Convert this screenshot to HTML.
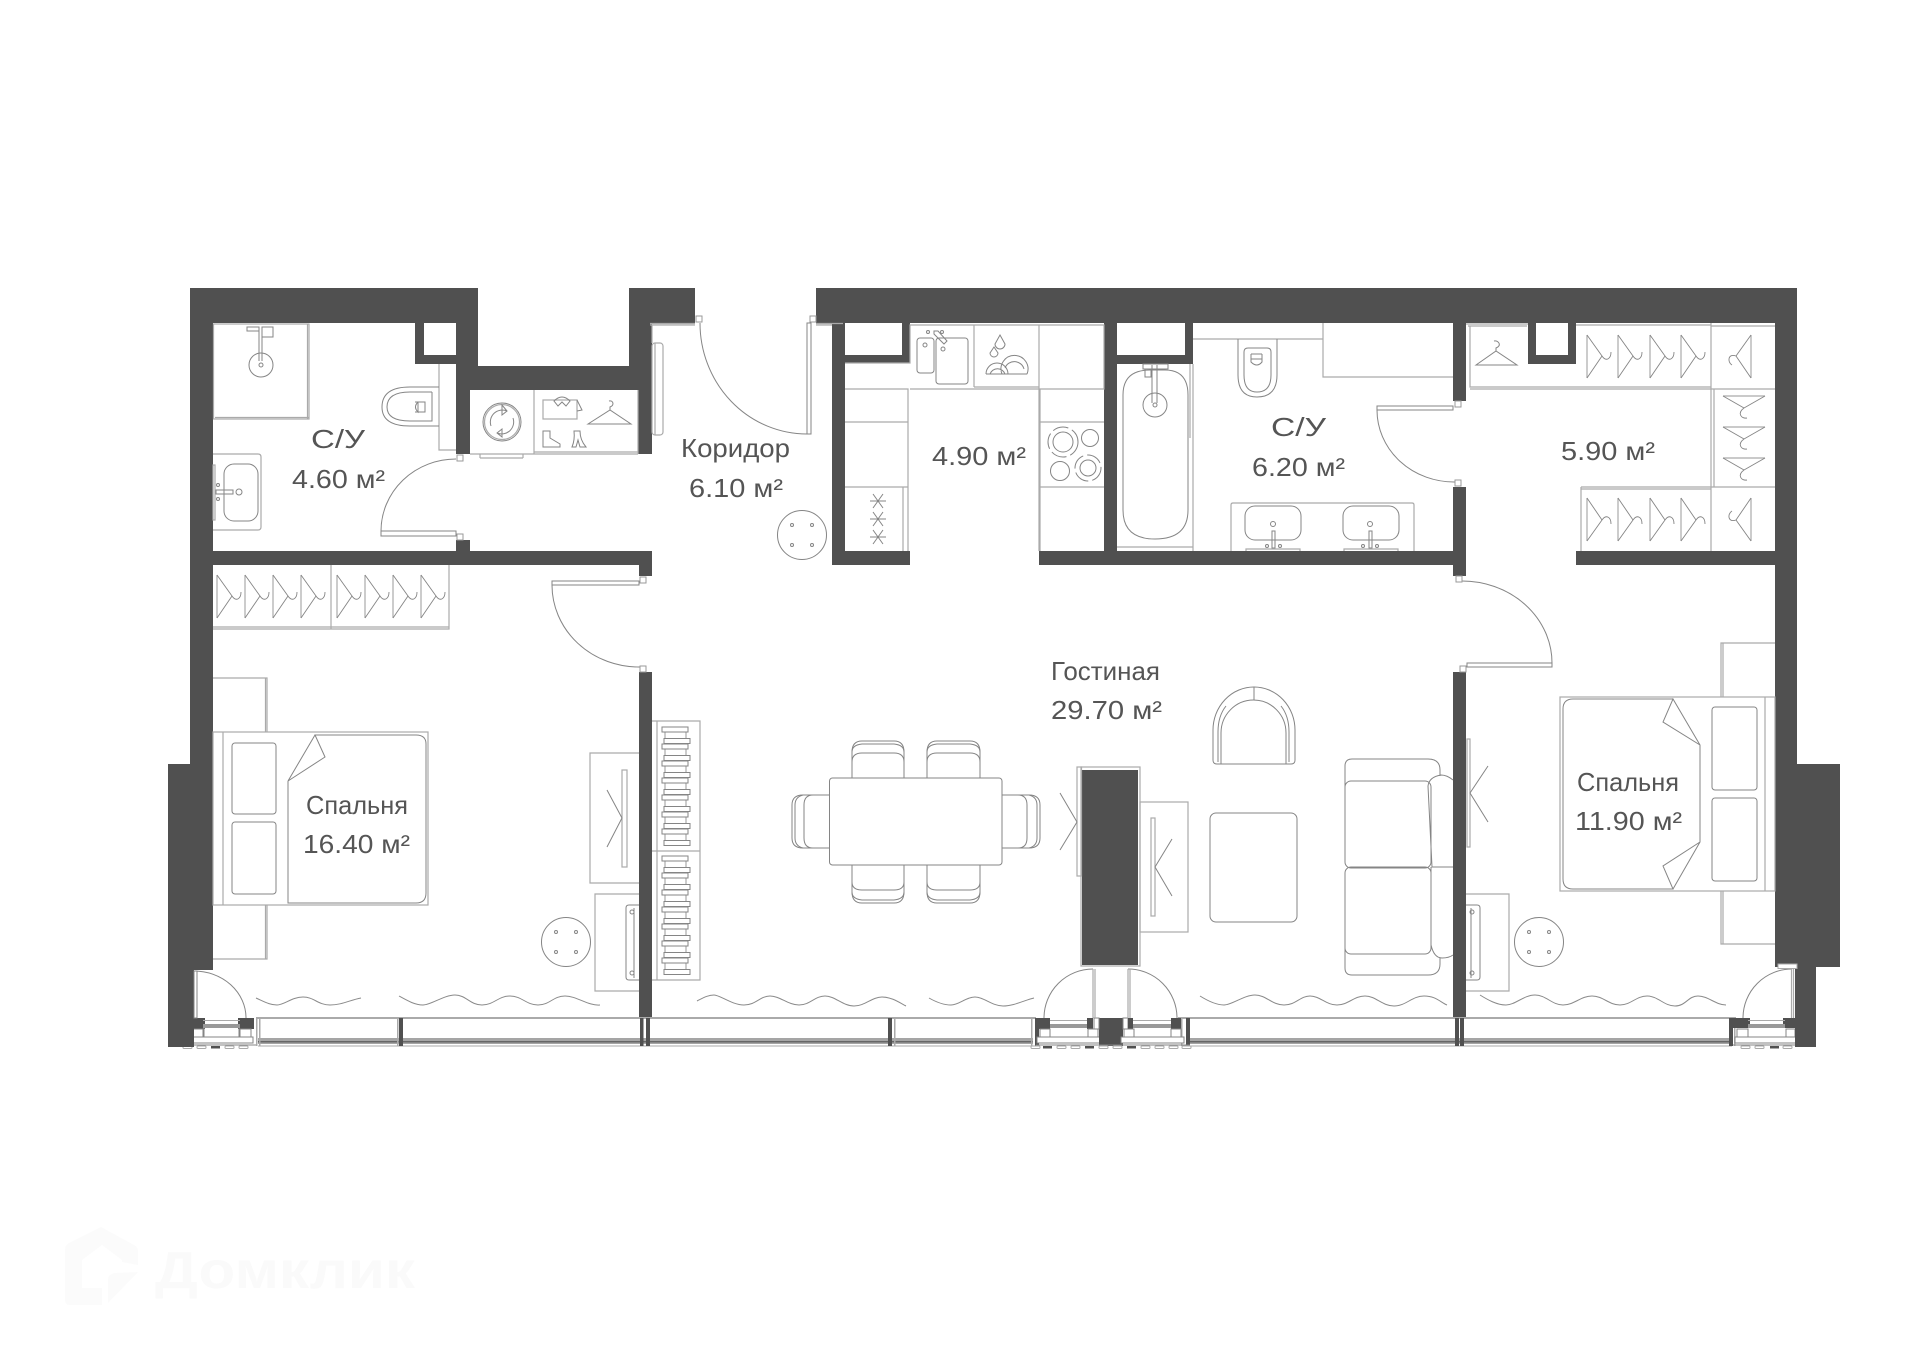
<!DOCTYPE html>
<html><head><meta charset="utf-8"><title>План квартиры</title>
<style>
html,body{margin:0;padding:0;background:#fff}
svg{display:block}
.w{fill:#505050}
.l{fill:none;stroke:#858585;stroke-width:1}
.n{fill:none;stroke:#aaa;stroke-width:1.2}
.b{fill:#fff;stroke:#858585;stroke-width:1}
.t{font-family:"Liberation Sans",sans-serif;font-size:26px;fill:#555}
</style></head><body>
<svg width="1920" height="1357" viewBox="0 0 1920 1357" xmlns="http://www.w3.org/2000/svg">
<defs>
<g id="hr"><path class="n" d="M0,0V43"/><path class="l" style="stroke-width:.9" d="M0,0L15,21L0,43M15,21C19,27 24,24 24,17"/></g>
<g id="hm"><path class="n" d="M0,0V43"/><path class="l" style="stroke-width:.9" d="M0,0L-15,21L0,43M-15,21C-23,18 -24,27 -19,30"/></g>
<g id="ht"><path class="n" d="M0,0H42"/><path class="l" style="stroke-width:.9" d="M0,0L21,12L42,0M21,12C14,17 18,23 24,22"/></g>
<g id="pouf"><circle class="l" r="24.5"/><circle class="l" cx="-10" cy="-10" r="1.5"/><circle class="l" cx="10" cy="-10" r="1.5"/><circle class="l" cx="-10" cy="10" r="1.5"/><circle class="l" cx="10" cy="10" r="1.5"/></g>
<g id="pair"><rect class="b" x="662" y="0" width="26" height="5"/><rect class="b" x="664" y="11.5" width="26" height="5"/></g>
<g id="snow"><path class="l" d="M-8,0H8M-5,-7L5,7M5,-7L-5,7"/></g>
<g id="lz"><rect x="0" y="0" width="9" height="2.5" rx="1" fill="#fff" stroke="#aaa" stroke-width="1"/></g>
<g id="ld"><rect x="0" y="0" width="9" height="2.5" fill="#505050"/></g>
<g id="hg"><rect x="0" y="0" width="6" height="6" fill="#fff" stroke="#999" stroke-width="1"/></g>
</defs>
<rect width="1920" height="1357" fill="#fff"/>

<!-- watermark -->
<path d="M65,1250Q65,1245 69,1243L101,1227L134,1245Q138,1247 138,1251V1265L122,1262V1260L102,1245L82,1260V1288H102V1305H70Q65,1305 65,1300Z" fill="#fbfbfb"/>
<path d="M108,1303V1280Q108,1274 115,1273L138,1272Z" fill="#fbfbfb"/>
<text x="155" y="1288" textLength="260" lengthAdjust="spacingAndGlyphs" style="font-family:'Liberation Sans',sans-serif;font-weight:bold;font-size:52px;fill:#fafafa">Домклик</text>

<!-- window bands -->
<g>
<rect x="256" y="1017" width="780" height="2" fill="#aaa"/>
<rect x="1178" y="1017" width="558" height="2" fill="#aaa"/>
<rect x="258" y="1038" width="775" height="6" fill="#a5a5a5"/>
<rect x="1188" y="1038" width="544" height="6" fill="#a5a5a5"/>
<rect x="258" y="1041" width="775" height="1.5" fill="#666"/>
<rect x="1188" y="1041" width="544" height="1.5" fill="#666"/>
<rect x="258" y="1045.500" width="775" height="1" fill="#aaa"/>
<rect x="1188" y="1045.500" width="544" height="1" fill="#aaa"/>
<rect x="256" y="1018" width="1.5" height="28" fill="#aaa"/><rect x="259" y="1018" width="1.5" height="28" fill="#aaa"/>
<rect x="397" y="1018" width="1.5" height="28" fill="#aaa"/><rect x="399" y="1018" width="4" height="28" fill="#505050"/>
<rect x="640" y="1018" width="3.5" height="28" fill="#505050"/><rect x="646" y="1018" width="4" height="28" fill="#505050"/>
<rect x="888" y="1018" width="4" height="28" fill="#505050"/><rect x="894" y="1018" width="1.5" height="28" fill="#aaa"/>
<rect x="1031" y="1018" width="1.5" height="28" fill="#aaa"/><rect x="1035" y="1018" width="4" height="28" fill="#505050"/>
<rect x="1186" y="1018" width="4" height="28" fill="#505050"/><rect x="1181" y="1018" width="1.5" height="28" fill="#aaa"/>
<rect x="1455" y="1018" width="4" height="28" fill="#505050"/><rect x="1460" y="1018" width="4" height="28" fill="#505050"/>
<rect x="1729" y="1018" width="4" height="28" fill="#505050"/><rect x="1734" y="1018" width="1.5" height="28" fill="#aaa"/>
</g>

<!-- balcony door modules -->
<g>
<!-- left -->
<rect x="194" y="1018" width="11" height="11" class="w"/><rect x="238" y="1018" width="16" height="11" class="w"/>
<rect x="203" y="1024" width="37" height="4" fill="#999"/><rect x="203" y="1020" width="37" height="1" fill="#aaa"/>
<rect x="192" y="1029" width="11" height="9" class="b"/><rect x="240" y="1029" width="11" height="9" class="b"/>
<rect x="190" y="1037" width="63" height="6" class="b"/>
<path class="l" d="M204,1028V1037M239,1028V1037M168,1045H256"/>
<use href="#lz" x="183" y="1046"/><use href="#lz" x="197" y="1046"/><use href="#ld" x="211" y="1046"/><use href="#lz" x="225" y="1046"/><use href="#lz" x="239" y="1046"/>
<!-- centre left -->
<rect x="1039" y="1018" width="11" height="11" class="w"/><rect x="1087" y="1018" width="6" height="11" class="w"/>
<rect x="1050" y="1024" width="37" height="4" fill="#999"/><rect x="1050" y="1020" width="37" height="1" fill="#aaa"/>
<rect x="1040" y="1029" width="10" height="9" class="b"/><rect x="1088" y="1029" width="10" height="9" class="b"/>
<rect x="1037" y="1037" width="63" height="6" class="b"/>
<!-- centre column -->
<rect x="1099" y="1018" width="24" height="28" class="w"/>
<rect x="1094" y="1018" width="5" height="11" class="b"/><rect x="1123" y="1018" width="5" height="11" class="b"/>
<!-- centre right -->
<rect x="1128" y="1018" width="5" height="11" class="w"/><rect x="1171" y="1018" width="10" height="11" class="w"/>
<rect x="1133" y="1024" width="38" height="4" fill="#999"/><rect x="1133" y="1020" width="38" height="1" fill="#aaa"/>
<rect x="1124" y="1029" width="10" height="9" class="b"/><rect x="1171" y="1029" width="10" height="9" class="b"/>
<rect x="1121" y="1037" width="63" height="6" class="b"/>
<path class="l" d="M1036,1045H1190"/>
<use href="#lz" x="1031" y="1046"/><use href="#ld" x="1043" y="1046"/><use href="#lz" x="1057" y="1046"/><use href="#lz" x="1071" y="1046"/><use href="#ld" x="1085" y="1046"/><use href="#lz" x="1099" y="1046"/><use href="#lz" x="1113" y="1046"/><use href="#ld" x="1127" y="1046"/><use href="#lz" x="1141" y="1046"/><use href="#lz" x="1155" y="1046"/><use href="#lz" x="1169" y="1046"/><use href="#lz" x="1182" y="1046"/>
<!-- right -->
<rect x="1733" y="1018" width="17" height="10" class="w"/><rect x="1783" y="1018" width="12" height="10" class="w"/>
<rect x="1748" y="1024" width="37" height="4" fill="#999"/><rect x="1748" y="1020" width="37" height="1" fill="#aaa"/>
<rect x="1737" y="1029" width="11" height="9" class="b"/><rect x="1786" y="1029" width="9" height="9" class="b"/>
<rect x="1735" y="1037" width="63" height="6" class="b"/>
<path class="l" d="M1733,1045H1798"/>
<use href="#lz" x="1741" y="1046"/><use href="#lz" x="1755" y="1046"/><use href="#ld" x="1770" y="1046"/><use href="#lz" x="1783" y="1046"/>
</g>

<!-- WALLS -->
<g class="w">
<path d="M190,288H478V366H629V288H695V323H652V454H638V390H470V454H456V364H415V323H213V551H456V540H470V551H652V576H639V565H213V764H213V970H194V1047H168V764H190Z"/>
<path d="M424,323H456V355H424Z" fill="#fff"/>
<rect x="639" y="672" width="13" height="345"/>
<path d="M816,288H1797V764H1840V967H1816V1047H1795V967H1775V323H1576V364H1528V323H1466V401H1453V323H1193V364H1117V551H1453V487H1466V576H1453V565H1039V551H1104V323H910V363H845V551H910V565H832V323H816Z"/>
<path d="M1117,323H1185V355H1117Z" fill="#fff"/>
<rect x="845" y="323" width="57" height="32" fill="#fff"/>
<rect x="1536" y="323" width="32" height="32" fill="#fff"/>
<rect x="1576" y="551" width="199" height="14"/>
<rect x="1453" y="672" width="13" height="345"/>
<rect x="1082" y="770" width="56" height="195"/>
</g>

<!-- door leaves & arcs -->
<g>
<!-- wc1 -->
<rect class="b" x="381" y="531" width="75" height="5"/><path class="l" d="M381,531A75,72 0 0 1 456,459"/>
<use href="#hg" x="457" y="455"/><use href="#hg" x="457" y="534"/>
<!-- bedroom1 -->
<rect class="b" x="552" y="581" width="87" height="4"/><path class="l" d="M552,585A87,82 0 0 0 640,667"/>
<use href="#hg" x="640" y="577"/><use href="#hg" x="640" y="666"/>
<!-- entrance -->
<path class="l" d="M700,323A107,111 0 0 0 807,434"/><rect class="b" x="807" y="323" width="4" height="111"/>
<use href="#hg" x="696" y="316"/><use href="#hg" x="810" y="316"/>
<path class="n" d="M650,323.500H695M650,325H695M816,323.500H843M816,325H832"/>
<rect class="n" x="652" y="343" width="11" height="92" rx="3"/><path class="n" d="M655,343V435M652,325V343"/>
<!-- wc2 -->
<rect class="b" x="1377" y="406" width="76" height="4"/><path class="l" d="M1377,410A77,72 0 0 0 1455,482"/>
<use href="#hg" x="1455" y="401"/><use href="#hg" x="1455" y="480"/>
<!-- bedroom2 -->
<rect class="b" x="1467" y="663" width="85" height="4"/><path class="l" d="M1461,581A90,82 0 0 1 1552,663"/>
<use href="#hg" x="1456" y="576"/><use href="#hg" x="1460" y="666"/>
<!-- balcony doors -->
<path class="l" d="M194,971A52,47 0 0 1 246,1018"/><rect class="b" x="194" y="971" width="3" height="47"/>
<path class="l" d="M1044,1018A49,49 0 0 1 1093,969"/><path class="n" d="M1093,969V1018M1095,969V1018"/>
<path class="l" d="M1128,969A49,49 0 0 1 1177,1018"/><path class="n" d="M1128,969V1018M1130,969V1018"/>
<path class="l" d="M1743,1018A49,49 0 0 1 1792,969"/><path class="n" d="M1791.500,969V1018M1793.500,969V1018"/>
<rect x="1778" y="964" width="19" height="4.500" fill="#fff" stroke="#aaa"/>
</g>

<!-- WC1 fixtures -->
<g>
<rect class="n" x="213.500" y="324" width="95.500" height="95"/><path class="n" d="M215,417.500H309M307.500,324V419"/>
<circle class="l" cx="261" cy="365" r="12"/><circle class="l" cx="261" cy="365" r="2"/>
<path class="l" d="M259,327V361M262,327V361"/><rect class="l" x="247" y="327" width="12" height="4"/><rect class="l" x="262" y="327" width="11" height="10"/>
<path class="n" d="M439,364V450H456"/>
<path class="l" d="M439,387H410Q382,387 382,407Q382,426 410,426H439"/>
<path class="l" d="M432,392H410Q387,392 387,407Q387,421 410,421H432V392"/>
<path class="l" d="M415,402H425V412H415M418,402V412Q413,407 418,402"/>
<path class="n" d="M213,454H258Q261,454 261,457V527Q261,530 258,530H213"/>
<rect class="l" x="224" y="464" width="34" height="57" rx="10"/>
<rect class="n" x="213" y="465" width="2" height="55"/>
<rect class="l" x="216" y="490" width="17" height="4"/><circle class="l" cx="239" cy="492" r="3"/><circle class="l" cx="218" cy="485" r="1.500"/><circle class="l" cx="218" cy="499" r="1.500"/>
</g>

<!-- Washer + wardrobe -->
<g>
<path class="n" d="M470,454H638M534,390V454M638,390V454M534,452H638"/>
<path class="n" d="M480,458H523M480,454V458M523,454V458"/>
<circle class="l" cx="502" cy="422" r="19"/><circle class="n" cx="502" cy="422" r="17.500"/>
<path class="l" d="M491,426A12,12 0 0 1 507,411M513,418A12,12 0 0 1 497,433M507,411L502,405V415ZM497,433L502,429V437Z"/>
<rect class="n" x="543" y="400" width="34" height="19"/><path class="l" d="M554,401Q562,393 570,401L566,406L562,402L558,406ZM577,400L582,410L577,411"/>
<path class="l" d="M588,424L610,410L631,424ZM610,410V407C615,405 613,400 609,401"/>
<path class="l" d="M543,431H550V438L560,444V447H543ZM574,431H580Q580,440 586,447H580L578,440L576,447H572Q575,440 574,431Z"/>
</g>

<!-- bedroom1 closet -->
<g>
<path class="n" d="M213,629H449V565M331,565V629M213,627H449"/>
<use href="#hr" x="217" y="575"/><use href="#hr" x="245" y="575"/><use href="#hr" x="273" y="575"/><use href="#hr" x="301" y="575"/>
<use href="#hr" x="337" y="575"/><use href="#hr" x="365" y="575"/><use href="#hr" x="393" y="575"/><use href="#hr" x="421" y="575"/>
</g>

<!-- bedroom1 -->
<g>
<path class="n" d="M213,678H267V732M213,959H267V905M265.500,678V732M265.500,905V959"/>
<rect class="n" x="213" y="732" width="215" height="173"/>
<path class="n" d="M223,732V905"/>
<path class="l" d="M288,781V903H416Q426,903 426,893V744Q426,735 416,735H315L325,757L288,781L315,735"/>
<rect class="l" x="232" y="743" width="44" height="71" rx="3"/><rect class="l" x="232" y="822" width="44" height="72" rx="3"/>
<use href="#pouf" x="566" y="942"/>
<path class="n" d="M639,753H590V883H639"/>
<rect class="n" x="622" y="770" width="5" height="97"/><path class="l" d="M607,790L622,818L607,847"/>
<path class="n" d="M639,894H595V991H639"/>
<path class="l" d="M639,905H629Q626,905 626,908V977Q626,980 629,980H639M634,908V978"/>
<circle class="l" cx="632" cy="912" r="2"/><circle class="l" cx="632" cy="973" r="2"/>
</g>

<!-- Bookshelf -->
<g>
<path class="n" d="M652,721H700V980H652M657,721V980M652,851H700"/>
<path class="n" d="M665,727V845M686,727V845M665,856V975M686,856V975"/>
<use href="#pair" y="727"/><use href="#pair" y="744"/><use href="#pair" y="761"/><use href="#pair" y="778"/><use href="#pair" y="795"/><use href="#pair" y="812"/><use href="#pair" y="829"/>
<use href="#pair" y="856"/><use href="#pair" y="873"/><use href="#pair" y="890"/><use href="#pair" y="907"/><use href="#pair" y="924"/><use href="#pair" y="941"/><use href="#pair" y="958"/>
</g>

<!-- Dining -->
<g>
<path class="l" d="M852,778V752Q852,741 862,741H894Q904,741 904,752V778"/><path class="l" d="M852,752Q852,745 862,744H894Q904,745 904,752M852,778V762Q852,753 862,753H894Q904,753 904,762V778"/>
<path class="l" d="M927,778V752Q927,741 937,741H970Q980,741 980,752V778"/><path class="l" d="M927,752Q927,745 937,744H970Q980,745 980,752M927,778V762Q927,753 937,753H970Q980,753 980,762V778"/>
<path class="l" d="M852,865V892Q852,903 862,903H894Q904,903 904,892V865"/><path class="l" d="M852,892Q852,899 862,900H894Q904,899 904,892M852,865V882Q852,890 862,890H894Q904,890 904,882V865"/>
<path class="l" d="M927,865V892Q927,903 937,903H970Q980,903 980,892V865"/><path class="l" d="M927,892Q927,899 937,900H970Q980,899 980,892M927,865V882Q927,890 937,890H970Q980,890 980,882V865"/>
<path class="l" d="M829,795H803Q792,795 792,805V838Q792,848 803,848H829"/><path class="l" d="M803,795Q795,797 795,805V838Q795,846 803,848M829,795H813Q804,795 804,805V838Q804,848 813,848H829"/>
<path class="l" d="M1002,795H1029Q1040,795 1040,805V838Q1040,848 1029,848H1002"/><path class="l" d="M1029,795Q1037,797 1037,805V838Q1037,846 1029,848M1002,795H1018Q1027,795 1027,805V838Q1027,848 1018,848H1002"/>
<rect class="b" x="829.500" y="778" width="172.500" height="87" rx="3"/>
<rect class="n" x="1077" y="767" width="4.500" height="109"/>
<rect class="n" x="1081" y="767" width="59" height="199"/>
<path class="l" d="M1060,793L1077,822L1060,850"/>
<rect class="n" x="1140" y="802" width="48" height="130"/>
<rect class="n" x="1151" y="818" width="4" height="98"/>
<path class="l" d="M1172,839L1155,867L1172,896"/>
</g>

<!-- Living right -->
<g>
<path class="l" d="M1213,760V730A41,43 0 0 1 1295,730V760Q1295,764 1291,764H1217Q1213,764 1213,760Z"/>
<path class="l" d="M1221,764V733A32.500,33 0 0 1 1286,733V764"/>
<path class="l" d="M1218,762V732Q1218,716 1226,706M1289,762V732Q1289,716 1281,706M1254,687V700"/>
<rect class="l" x="1210" y="813" width="87" height="109" rx="6"/>
<path class="l" d="M1345,787V766Q1345,759 1352,759H1428Q1440,759 1440,770V776M1345,948V968Q1345,975 1352,975H1428Q1440,975 1440,964V958"/>
<rect class="l" x="1345" y="781" width="86" height="87" rx="6"/><rect class="l" x="1345" y="867" width="86" height="87" rx="6"/>
<path class="l" d="M1453,780Q1447,775 1441,775Q1429,777 1428,786L1432,867H1453M1431,867V945Q1434,958 1442,958Q1449,958 1453,955"/>
<rect class="n" x="1467" y="739" width="3" height="108"/><path class="l" d="M1488,766L1470,793L1488,822"/>
</g>

<!-- bedroom2 -->
<g>
<path class="n" d="M1775,643H1721V697M1775,944H1721V891M1723,643V697M1723,891V944"/>
<rect class="n" x="1560" y="697" width="215" height="194"/>
<path class="n" d="M1765,697V891"/>
<path class="l" d="M1673,699H1573Q1563,699 1563,709V879Q1563,889 1573,889H1673L1663,866L1700,842V745L1663,722L1673,699L1700,745M1673,889L1700,842"/>
<rect class="l" x="1712" y="707" width="45" height="83" rx="3"/><rect class="l" x="1712" y="798" width="45" height="83" rx="3"/>
<use href="#pouf" x="1539" y="942"/>
<path class="n" d="M1466,894H1509V991H1466"/>
<path class="l" d="M1466,905H1477Q1480,905 1480,908V977Q1480,980 1477,980H1466M1471,908V978"/>
<circle class="l" cx="1472" cy="912" r="2"/><circle class="l" cx="1472" cy="973" r="2"/>
</g>

<!-- corridor pouf -->
<use href="#pouf" x="802" y="535"/>

<!-- Kitchen -->
<g>
<path class="n" d="M845,363H910V325H1104V389H910M845,389H908V551M845,422H908M845,487H908M1039,325V551M1039,389H1104M1039,422H1104M1039,487H1104M974,325V387M974,387H1039M1040,389V551M903,487V551"/>
<rect class="l" x="917" y="338" width="17" height="35" rx="3"/><rect class="l" x="936" y="338" width="32" height="46" rx="3"/>
<circle class="l" cx="925" cy="345" r="2"/><circle class="l" cx="943" cy="349" r="2"/><circle class="l" cx="928" cy="332" r="1.500"/><circle class="l" cx="942" cy="332" r="1.500"/>
<path class="l" d="M934,331L938,331L947,341L944,344L934,334Z"/>
<path class="l" d="M1002,374A13.500,13.500 0 1 1 1027,374M1005,368A10,10 0 0 1 1024,369M986,374H1027M986,374A11,11 0 0 1 1008,374M990,374A8,8 0 0 1 1005,374"/>
<path class="l" d="M1000,335L1005,344A5,5 0 1 1 995,344ZM994,347L998,353A4,4 0 1 1 990,353Z"/>
<circle class="l" cx="1063" cy="442" r="10"/><circle class="l" cx="1063" cy="442" r="15" stroke-dasharray="16 4"/>
<circle class="l" cx="1090" cy="438" r="8.500"/><circle class="l" cx="1060" cy="471" r="9.500"/>
<circle class="l" cx="1088" cy="468" r="8"/><circle class="l" cx="1088" cy="468" r="13" stroke-dasharray="16 4"/>
<use href="#snow" x="878" y="501"/><use href="#snow" x="878" y="519"/><use href="#snow" x="878" y="537"/>
</g>

<!-- WC2 -->
<g>
<path class="l" d="M1123,395Q1123,370 1150,370H1165Q1188,370 1188,395V510Q1188,539 1155,539Q1123,539 1123,510Z"/>
<circle class="l" cx="1155" cy="405" r="12"/><circle class="l" cx="1155" cy="405" r="2"/>
<path class="l" d="M1152,365V403M1157,365V403"/><rect class="l" x="1143" y="364" width="25" height="5"/><rect class="l" x="1145" y="369" width="6" height="8"/>
<path class="n" d="M1117,547H1193M1190,364V438M1193,364V551"/>
<path class="n" d="M1193,339H1323M1323,323V377H1453"/>
<path class="l" d="M1238,339V375Q1238,397 1257,397Q1277,397 1277,375V339"/>
<path class="l" d="M1244,352Q1244,348 1248,348H1267Q1271,348 1271,352V375Q1271,392 1257,392Q1244,392 1244,375Z"/>
<path class="l" d="M1251,354H1262M1251,354V362Q1257,368 1262,362V354M1251,359H1262"/>
<path class="n" d="M1231,551V505Q1231,503 1233,503H1412Q1414,503 1414,505V551"/>
<rect class="l" x="1245" y="506" width="56" height="34" rx="10"/><rect class="l" x="1343" y="506" width="56" height="34" rx="10"/>
<circle class="l" cx="1273" cy="524" r="2.500"/><circle class="l" cx="1370" cy="524" r="2.500"/>
<rect class="l" x="1272" y="531" width="3" height="17"/><rect class="l" x="1369" y="531" width="3" height="17"/>
<circle class="l" cx="1267" cy="546" r="1.500"/><circle class="l" cx="1280" cy="546" r="1.500"/><circle class="l" cx="1363" cy="546" r="1.500"/><circle class="l" cx="1377" cy="546" r="1.500"/>
<path class="n" d="M1246,551V549H1300V551M1344,551V549H1398V551"/>
</g>

<!-- right closet -->
<g>
<path class="n" d="M1466,324H1528M1468,326H1527M1470,326V387H1711M1470,389H1711M1711,326H1775M1711,323V551M1714,389V487M1711,389H1775M1711,487H1775M1581,487H1711M1581,489H1711M1581,487V551M1576,325H1711"/>
<path class="l" d="M1476,365L1496,351L1517,365ZM1496,351V348C1502,346 1499,340 1494,341"/>
<use href="#hr" x="1587" y="335"/><use href="#hr" x="1618" y="335"/><use href="#hr" x="1650" y="335"/><use href="#hr" x="1681" y="335"/>
<use href="#hm" x="1751" y="335"/>
<use href="#ht" x="1723" y="396"/><use href="#ht" x="1723" y="427"/><use href="#ht" x="1723" y="458"/>
<g transform="translate(0,1040) scale(1,-1)"><use href="#hr" x="1587" y="499"/><use href="#hr" x="1618" y="499"/><use href="#hr" x="1650" y="499"/><use href="#hr" x="1681" y="499"/></g>
<g transform="translate(0,1039) scale(1,-1)"><use href="#hm" x="1751" y="498"/></g>
</g>

<!-- curtains -->
<g class="l" style="stroke:#8a8a8a">
<path d="M256,998C265,1002 270,1005 277,1005S292,997 303,997S318,1005 330,1005S350,1000 361,998"/>
<path d="M399,996C408,1001 415,1005 423,1005S444,995 455,995S470,1005 482,1005S498,996 510,996S526,1005 538,1005S553,996 565,996S588,1006 600,1005"/>
<path d="M697,1001C703,998 708,995 714,995S732,1005 744,1005S760,996 770,996S788,1005 799,1005S815,996 825,996S843,1006 854,1006S872,997 882,997S900,1003 906,1006"/>
<path d="M929,998C936,1002 943,1005 951,1005S966,997 975,997S992,1006 1003,1006S1025,1000 1034,998"/>
<path d="M1200,996C1208,1001 1216,1005 1224,1005S1244,995 1255,995S1272,1005 1284,1005S1300,996 1310,996S1326,1005 1337,1005S1354,996 1365,996S1382,1006 1394,1006S1412,996 1424,996S1440,1002 1447,1005"/>
<path d="M1480,995C1488,1000 1497,1005 1506,1005S1524,995 1535,995S1552,1005 1563,1005S1581,996 1592,996S1609,1005 1620,1005S1636,996 1647,996S1664,1006 1675,1006S1688,996 1698,996S1716,1005 1726,1005"/>
</g>

<!-- text -->
<g class="t">
<text x="311" y="448" textLength="54" lengthAdjust="spacingAndGlyphs">С/У</text>
<text x="292" y="488" textLength="93" lengthAdjust="spacingAndGlyphs">4.60 м²</text>
<text x="681" y="457" textLength="109" lengthAdjust="spacingAndGlyphs">Коридор</text>
<text x="689" y="497" textLength="94" lengthAdjust="spacingAndGlyphs">6.10 м²</text>
<text x="932" y="465" textLength="94" lengthAdjust="spacingAndGlyphs">4.90 м²</text>
<text x="1271" y="436" textLength="55" lengthAdjust="spacingAndGlyphs">С/У</text>
<text x="1252" y="476" textLength="93" lengthAdjust="spacingAndGlyphs">6.20 м²</text>
<text x="1561" y="460" textLength="94" lengthAdjust="spacingAndGlyphs">5.90 м²</text>
<text x="306" y="814" textLength="102" lengthAdjust="spacingAndGlyphs">Спальня</text>
<text x="303" y="853" textLength="107" lengthAdjust="spacingAndGlyphs">16.40 м²</text>
<text x="1051" y="680" textLength="109" lengthAdjust="spacingAndGlyphs">Гостиная</text>
<text x="1051" y="719" textLength="111" lengthAdjust="spacingAndGlyphs">29.70 м²</text>
<text x="1577" y="791" textLength="102" lengthAdjust="spacingAndGlyphs">Спальня</text>
<text x="1575" y="830" textLength="107" lengthAdjust="spacingAndGlyphs">11.90 м²</text>
</g>
</svg>
</body></html>
